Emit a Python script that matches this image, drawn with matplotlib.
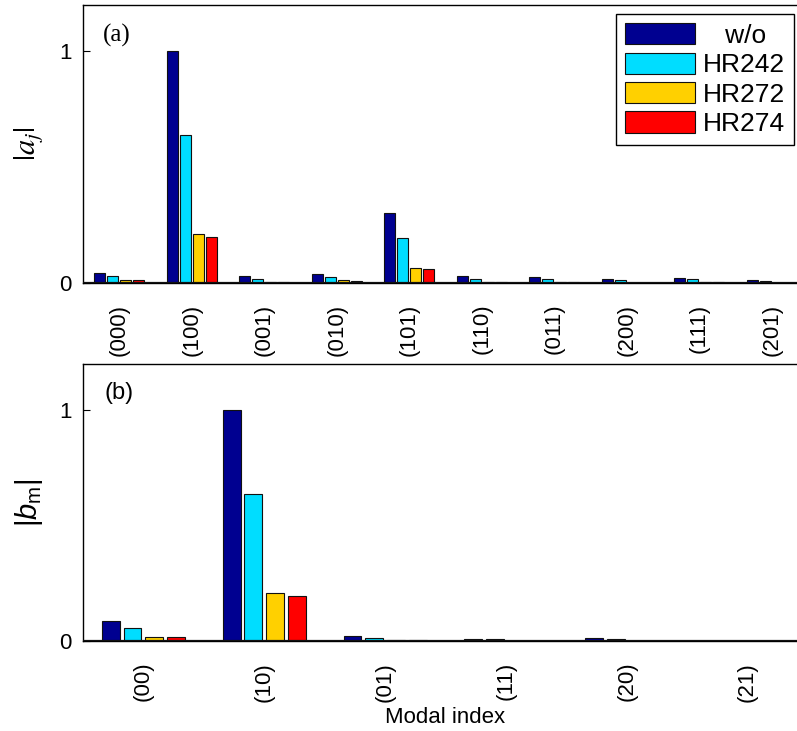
import numpy as np
import matplotlib
matplotlib.use('Agg')
import matplotlib.pyplot as plt

plt.rcParams['font.family'] = ['Liberation Sans', 'DejaVu Sans']
plt.rcParams['mathtext.fontset'] = 'custom'
plt.rcParams['mathtext.rm'] = 'Liberation Sans'
plt.rcParams['mathtext.it'] = 'Liberation Sans:italic'

series = ['w/o', 'HR242', 'HR272', 'HR274']
colors = ['#000090', '#00DDFF', '#FFD000', '#FF0000']

# 3D modal amplitudes |a_j|
modes_a = ['(000)', '(100)', '(001)', '(010)', '(101)',
           '(110)', '(011)', '(200)', '(111)', '(201)']
a_wo    = [0.043, 1.000, 0.029, 0.040, 0.302, 0.029, 0.025, 0.016, 0.023, 0.011]
a_hr242 = [0.029, 0.638, 0.019, 0.026, 0.193, 0.019, 0.017, 0.012, 0.016, 0.008]
a_hr272 = [0.013, 0.213, 0.005, 0.011, 0.065, 0.004, 0.004, 0.002, 0.004, 0.001]
a_hr274 = [0.012, 0.198, 0.005, 0.008, 0.060, 0.004, 0.003, 0.001, 0.003, 0.001]

# 2D modal amplitudes |b_m|
modes_b = ['(00)', '(10)', '(01)', '(11)', '(20)', '(21)']
b_wo    = [0.085, 1.000, 0.022, 0.010, 0.012, 0.002]
b_hr242 = [0.055, 0.638, 0.013, 0.007, 0.008, 0.002]
b_hr272 = [0.019, 0.210, 0.004, 0.001, 0.002, 0.000]
b_hr274 = [0.017, 0.197, 0.004, 0.001, 0.002, 0.000]

W, H = 797, 731
fig = plt.figure(figsize=(W / 100, H / 100), dpi=100)

def px_axes(l, r, t, b):
    return fig.add_axes([l / W, 1 - b / H, (r - l) / W, (b - t) / H])

def grouped_bars(ax, labels, data, tick_marks):
    x = np.arange(1, len(labels) + 1)
    pitch, width = 0.18, 0.148
    for i, vals in enumerate(data):
        ax.bar(x + (i - 1.5) * pitch, vals, width, color=colors[i],
               edgecolor='#111111', linewidth=0.8, label=series[i])
    ax.axhline(0, color='#111111', lw=1.6, zorder=3)
    ax.set_xlim(0.5, len(labels) + 0.5)
    ax.set_ylim(0, 1.2)
    ax.set_xticks(x)
    ax.set_xticklabels(labels, rotation=90, fontsize=16)
    ax.set_xticks(tick_marks, minor=True)
    ax.tick_params(axis='x', which='major', length=0, pad=15)
    ax.tick_params(axis='x', which='minor', direction='in', length=5,
                   top=True, bottom=True, width=0.8)
    ax.set_yticks([0, 1])
    ax.set_yticklabels(['0', '1'], fontsize=16)
    ax.tick_params(axis='y', direction='in', length=5, right=True, width=0.8, pad=8)
    for s in ax.spines.values():
        s.set_linewidth(1.0)

ax1 = px_axes(83, 808, 5, 283)
grouped_bars(ax1, modes_a, [a_wo, a_hr242, a_hr272, a_hr274], [2, 4, 6, 8, 10])
ax1.text(0.027, 0.89, '(a)', fontsize=18, family='Liberation Serif',
         ha='left', va='center', transform=ax1.transAxes)
ax1.set_ylabel(r'$|a_j|$', fontsize=22, math_fontfamily='stix')
ax1.yaxis.set_label_coords(-0.052, 0.5)

leg = ax1.legend(loc='upper right', bbox_to_anchor=(794 / W, 1 - 14 / H),
                 bbox_transform=fig.transFigure, borderaxespad=0,
                 fontsize=19, fancybox=False, framealpha=1, edgecolor='k',
                 handlelength=2.65, handleheight=0.85, handletextpad=0.28,
                 labelspacing=0.18, borderpad=0.35)
leg.get_frame().set_linewidth(1.0)
leg.get_texts()[0].set_text('   w/o')

ax2 = px_axes(83, 808, 364, 641)
grouped_bars(ax2, modes_b, [b_wo, b_hr242, b_hr272, b_hr274], [1, 2, 3, 4, 5, 6])
ax2.text(0.030, 0.935, '(b)', fontsize=17, ha='left', va='top',
         transform=ax2.transAxes)
ax2.set_ylabel(r'$|b_\mathrm{m}|$', fontsize=21)
ax2.yaxis.set_label_coords(-0.052, 0.5)
ax2.set_xlabel('Modal index', fontsize=16)
ax2.xaxis.set_label_coords(0.5, -0.238)

fig.savefig('out.png', dpi=100)
